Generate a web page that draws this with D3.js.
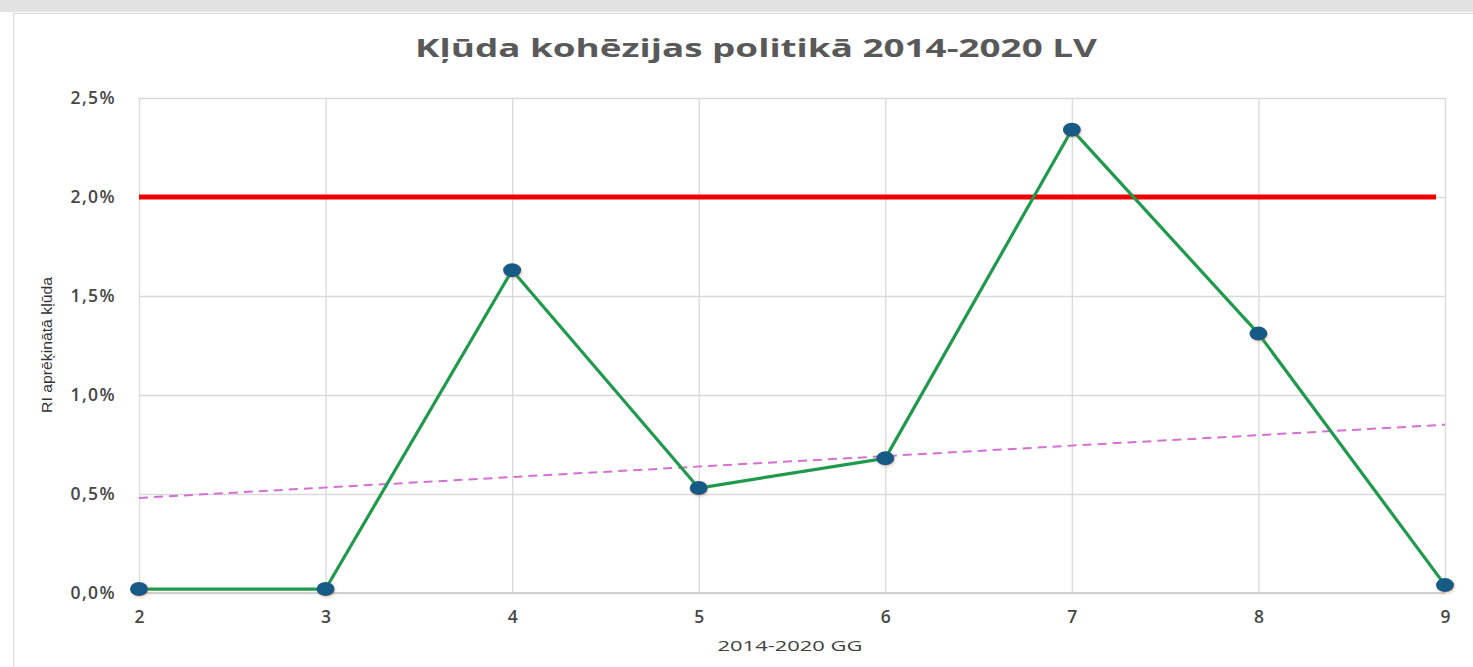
<!DOCTYPE html>
<html lang="lv">
<head>
    <meta charset="UTF-8">
    <title>Kļūda kohēzijas politikā 2014-2020 LV</title>
    <script src="https://d3js.org/d3.v7.min.js"></script>
    <style>
        body { margin: 0; background-color: #ffffff; }
        svg { display: block; }
        .tick text { fill: #474747; font-family: "Open Sans", sans-serif; font-weight: 600; }
    </style>
</head>
<body>
    <svg></svg>

    <script>
        // chart data (values in percent)
        const categories = ["2", "3", "4", "5", "6", "7", "8", "9"];
        const errorRate = [0.02, 0.02, 1.63, 0.53, 0.68, 2.34, 1.31, 0.04];
        const threshold = 2.0;
        const trendEnds = [0.48, 0.85];   // dashed trend at first and last category
        const yTicks = [0, 0.5, 1.0, 1.5, 2.0, 2.5];

        const width = 1473, height = 667;
        const margin = {top: 98, right: 28, bottom: 74, left: 139};

        let svg = d3.select("svg")
            .attr("width", width)
            .attr("height", height);

        // page frame: grey strip on top, card border
        svg.append("rect").attr("x", 0).attr("y", 0).attr("width", width).attr("height", 12)
            .attr("fill", "#e2e2e2");
        svg.append("rect").attr("x", 13.5).attr("y", 13.5).attr("width", width).attr("height", height)
            .attr("fill", "#fff").attr("stroke", "#d8d8d8");

        let x = d3.scalePoint()
            .domain(categories)
            .range([margin.left, width - margin.right]);

        let y = d3.scaleLinear()
            .domain([0, 2.5])
            .range([height - margin.bottom, margin.top]);

        let fmt = d => d.toFixed(1).replace(".", ",") + "%";

        // horizontal grid + y labels
        svg.append("g")
            .attr("transform", "translate(" + margin.left + ",0)")
            .call(d3.axisLeft(y).tickValues(yTicks).tickFormat(fmt)
                .tickSize(-(width - margin.left - margin.right)).tickPadding(23))
            .call(g => g.select(".domain").remove())
            .call(g => g.selectAll(".tick line").attr("stroke", "#d9d9d9").attr("stroke-width", 1.3))
            .call(g => g.selectAll(".tick text").attr("font-size", 17.5).attr("letter-spacing", 1.4));

        // vertical grid + x labels
        svg.append("g")
            .attr("transform", "translate(0," + (height - margin.bottom) + ")")
            .call(d3.axisBottom(x).tickSize(-(height - margin.top - margin.bottom)).tickPadding(18))
            .call(g => g.select(".domain").remove())
            .call(g => g.selectAll(".tick line").attr("stroke", "#d9d9d9").attr("stroke-width", 1.3))
            .call(g => g.selectAll(".tick text").attr("font-size", 17.5));

        // bottom axis line
        svg.append("line")
            .attr("x1", x(categories[0])).attr("x2", x(categories[categories.length - 1]))
            .attr("y1", y(0)).attr("y2", y(0))
            .attr("stroke", "#d0d0d0").attr("stroke-width", 2);

        // red 2% line
        svg.append("line")
            .attr("x1", x(categories[0])).attr("x2", x(categories[categories.length - 1]) - 9)
            .attr("y1", y(threshold)).attr("y2", y(threshold))
            .attr("stroke", "#ee0000").attr("stroke-width", 5);

        // dashed trend
        svg.append("line")
            .attr("x1", x(categories[0])).attr("x2", x(categories[categories.length - 1]))
            .attr("y1", y(trendEnds[0])).attr("y2", y(trendEnds[1]))
            .attr("stroke", "#d46fd4").attr("stroke-width", 2)
            .attr("stroke-dasharray", "9,6");

        // main series
        let points = categories.map((c, i) => ({cat: c, v: errorRate[i]}));

        let line = d3.line()
            .x(d => x(d.cat))
            .y(d => y(d.v));

        svg.append("path")
            .datum(points)
            .attr("d", line)
            .attr("fill", "none")
            .attr("stroke", "#1f9a4c")
            .attr("stroke-width", 3.2)
            .attr("stroke-linejoin", "round");

        let defs = svg.append("defs");
        let shadow = defs.append("filter").attr("id", "shadow")
            .attr("x", "-50%").attr("y", "-50%").attr("width", "200%").attr("height", "200%");
        shadow.append("feDropShadow").attr("dx", 1).attr("dy", 1.5).attr("stdDeviation", 1.2)
            .attr("flood-color", "#b07030").attr("flood-opacity", 0.35);

        svg.append("g")
            .selectAll("ellipse")
            .data(points)
            .enter()
            .append("ellipse")
            .attr("cx", d => x(d.cat))
            .attr("cy", d => y(d.v))
            .attr("rx", 9)
            .attr("ry", 7)
            .attr("fill", "#175a86")
            .attr("filter", "url(#shadow)");

        // titles
        svg.append("text")
            .attr("x", 756)
            .attr("y", 57)
            .attr("text-anchor", "middle")
            .attr("font-family", "'Open Sans', sans-serif")
            .attr("font-weight", "bold")
            .attr("font-size", 25)
            .attr("fill", "#595959")
            .attr("textLength", 682)
            .attr("lengthAdjust", "spacingAndGlyphs")
            .text("Kļūda kohēzijas politikā 2014-2020 LV");

        svg.append("text")
            .attr("transform", "translate(52,345) rotate(-90)")
            .attr("text-anchor", "middle")
            .attr("font-family", "'Liberation Sans Narrow', 'Liberation Sans', sans-serif")
            .attr("font-size", 15)
            .attr("fill", "#333")
            .attr("textLength", 136)
            .attr("lengthAdjust", "spacingAndGlyphs")
            .text("RI aprēķinātā kļūda");

        svg.append("text")
            .attr("x", 790)
            .attr("y", 651)
            .attr("text-anchor", "middle")
            .attr("font-family", "'Open Sans', sans-serif")
            .attr("font-size", 14.5)
            .attr("fill", "#404040")
            .attr("textLength", 145)
            .attr("lengthAdjust", "spacingAndGlyphs")
            .text("2014-2020 GG");
    </script>
</body>
</html>
